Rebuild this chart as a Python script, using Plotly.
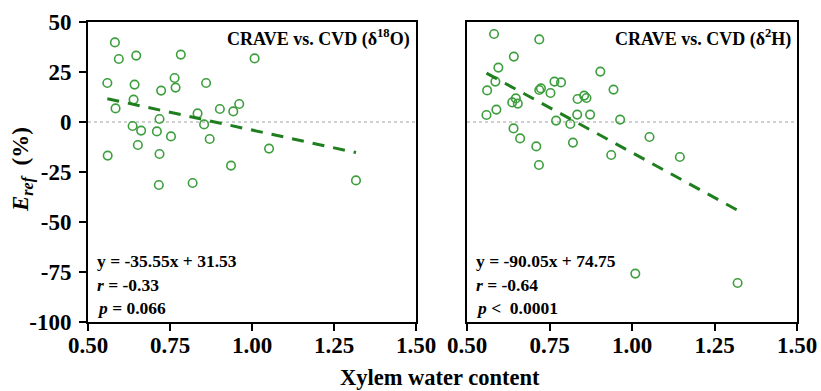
import plotly.graph_objects as go

# Xylem water content vs. relative error, CRAVE vs. CVD (delta 18O)
o18_x = [0.582, 0.594, 0.647, 0.783, 1.008, 0.559, 0.642, 0.764, 0.767, 0.723,
         0.860, 0.584, 0.639, 0.834, 0.902, 0.943, 0.961, 0.718, 0.636, 0.662,
         0.710, 0.854, 0.753, 0.871, 0.652, 0.560, 0.718, 1.052, 0.936, 0.716,
         0.819, 1.317]
o18_y = [39.8, 31.5, 33.2, 33.7, 31.8, 19.5, 18.7, 22.0, 17.2, 15.7,
         19.5, 6.8, 11.2, 4.3, 6.5, 5.3, 9.0, 1.5, -2.0, -4.3,
         -4.7, -1.2, -7.2, -8.5, -11.5, -16.8, -16.0, -13.3, -21.8, -31.5,
         -30.5, -29.2]
o18_slope, o18_intercept = -35.55, 31.53
o18_r, o18_p = "-0.33", "= 0.066"

# CRAVE vs. CVD (delta 2H)
h2_x = [0.582, 0.719, 0.642, 0.595, 0.904, 0.586, 0.561, 0.724, 0.719, 0.765,
        0.785, 0.753, 0.944, 0.648, 0.637, 0.654, 0.835, 0.855, 0.862, 0.589,
        0.559, 0.834, 0.873, 0.770, 0.813, 0.964, 0.641, 0.661, 1.053, 0.821,
        0.710, 0.937, 1.145, 0.718, 1.010, 1.320]
h2_y = [44.0, 41.3, 32.7, 27.2, 25.2, 20.2, 15.8, 16.8, 16.0, 20.2,
        19.8, 14.5, 16.2, 11.8, 9.8, 9.2, 11.5, 13.2, 12.0, 6.2,
        3.5, 3.7, 3.7, 0.7, -1.0, 1.2, -3.2, -8.2, -7.5, -10.3,
        -12.2, -16.5, -17.5, -21.5, -75.8, -80.5]
h2_slope, h2_intercept = -90.05, 74.75
h2_r, h2_p = "-0.64", "<  0.0001"

x_ticks = [0.50, 0.75, 1.00, 1.25, 1.50]
x_tick_labels = ["0.50", "0.75", "1.00", "1.25", "1.50"]
y_ticks = [-100, -75, -50, -25, 0, 25, 50]
y_tick_labels = ["-100", "-75", "-50", "-25", "0", "25", "50"]

SERIF = "Liberation Serif"
MARKER_GREEN = "#3d9e3d"
LINE_GREEN = "#1f7f1f"

W, H = 821, 391
def px_x(p):
    return p / W
def px_y(p):
    return 1 - p / H

fig = go.Figure()

panels = [
    ("x", "y", o18_x, o18_y, o18_slope, o18_intercept, o18_r, o18_p,
     "CRAVE vs. CVD (δ<sup>18</sup>O)"),
    ("x2", "y2", h2_x, h2_y, h2_slope, h2_intercept, h2_r, h2_p,
     "CRAVE vs. CVD (δ<sup>2</sup>H)"),
]

for xa, ya, xs, ys, m, b, r, p, title in panels:
    # zero reference line
    fig.add_trace(go.Scatter(
        x=[0.5, 1.5], y=[0, 0], mode="lines", xaxis=xa, yaxis=ya,
        showlegend=False, hoverinfo="skip",
        line=dict(color="#a0a0a0", width=1, dash="dot"),
    ))
    fig.add_trace(go.Scatter(
        x=xs, y=ys, mode="markers", xaxis=xa, yaxis=ya, showlegend=False,
        marker=dict(symbol="circle-open", size=8.5, color=MARKER_GREEN,
                    line=dict(width=1.6, color=MARKER_GREEN)),
    ))
    x0, x1 = min(xs), max(xs)
    fig.add_trace(go.Scatter(
        x=[x0, x1], y=[m * x0 + b, m * x1 + b], mode="lines",
        xaxis=xa, yaxis=ya, showlegend=False,
        line=dict(color=LINE_GREEN, width=3, dash="12px,9px"),
    ))

axis_common = dict(
    showline=True, linecolor="black", linewidth=2, mirror=True,
    showgrid=False, zeroline=False,
    ticks="outside", ticklen=7, tickwidth=2, tickcolor="black",
    tickfont=dict(family=SERIF, size=23, color="black", weight="bold"),
)

fig.update_layout(
    width=W, height=H,
    margin=dict(l=0, r=0, t=0, b=0, autoexpand=False),
    paper_bgcolor="white", plot_bgcolor="white",
    xaxis=dict(domain=[px_x(88), px_x(416)], range=[0.5, 1.5], anchor="y",
               tickvals=x_ticks, ticktext=x_tick_labels, ticklabelstandoff=-6,
               **axis_common),
    yaxis=dict(domain=[px_y(322), px_y(22)], range=[-100, 50], anchor="x",
               tickvals=y_ticks, ticktext=y_tick_labels, ticklabelstandoff=3,
               **axis_common),
    xaxis2=dict(domain=[px_x(467), px_x(797)], range=[0.5, 1.5], anchor="y2",
                tickvals=x_ticks, ticktext=x_tick_labels, ticklabelstandoff=-6,
                **axis_common),
    yaxis2=dict(domain=[px_y(322), px_y(22)], range=[-100, 50], anchor="x2",
                tickvals=y_ticks, showticklabels=False,
                **{**axis_common, "ticks": ""}),
)

title_font = dict(family=SERIF, size=18, color="black", weight="bold")
ann_font = dict(family=SERIF, size=17.5, color="black", weight="bold")
for (xa, ya, xs, ys, m, b, r, p, title), (left, right) in zip(
        panels, [(88, 416), (467, 797)]):
    fig.add_annotation(
        xref="paper", yref="paper", x=px_x(right - 4), y=px_y(38),
        xanchor="right", yanchor="middle", text=title, showarrow=False,
        font=title_font,
    )
    eq = f"y = {m:.2f}x + {b:.2f}"
    lines = [eq, f"<i>r</i> = {r}", f"<i>p</i> {p}"]
    for i, t in enumerate(lines):
        fig.add_annotation(
            xref="paper", yref="paper", x=px_x(left + 7), y=px_y(261 + 23.5 * i),
            xanchor="left", yanchor="middle", text=t, showarrow=False,
            font=ann_font,
        )

fig.add_annotation(
    xref="paper", yref="paper", x=px_x(440), y=px_y(377),
    xanchor="center", yanchor="middle", text="Xylem water content",
    showarrow=False, font=dict(family=SERIF, size=22.5, color="black", weight="bold"),
)
fig.add_annotation(
    xref="paper", yref="paper", x=px_x(23), y=px_y(170),
    xanchor="center", yanchor="middle", textangle=-90,
    text="<i>E</i><sub><i>ref</i></sub>  (%)",
    showarrow=False, font=dict(family=SERIF, size=23, color="black", weight="bold"),
)

fig.write_html("out.html")
